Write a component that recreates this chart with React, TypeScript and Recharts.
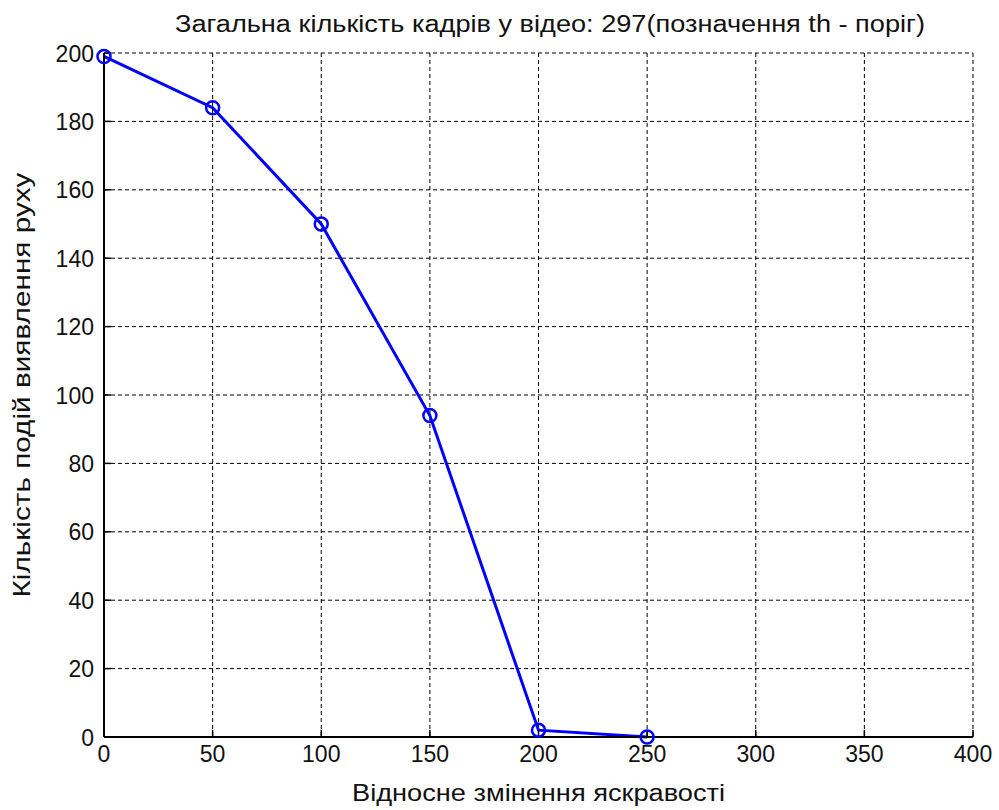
import React from "react";
import {
  CartesianGrid,
  Label,
  Line,
  LineChart,
  XAxis,
  YAxis,
} from "recharts";

// brightness threshold vs detected motion events
const thresholds = [0, 50, 100, 150, 200, 250];
const events = [199, 184, 150, 94, 2, 0];

const xTicks = [0, 50, 100, 150, 200, 250, 300, 350, 400];
const yTicks = [0, 20, 40, 60, 80, 100, 120, 140, 160, 180, 200];

const TITLE = "Загальна кількість кадрів у відео: 297(позначення th - поріг)";
const X_LABEL = "Відносне змінення яскравості";
const Y_LABEL = "Кількість подій виявлення руху";

const FONT = "'Liberation Sans', Arial, sans-serif";
const BLUE = "#0000ff";
const INK = "#111";

const data = thresholds.map((t, i) => ({ th: t, n: events[i] }));

function XTick(props: any) {
  const { x, y, payload } = props;
  const s = String(payload.value);
  return (
    <text
      x={x}
      y={y}
      dy="0.72em"
      textAnchor="middle"
      fontFamily={FONT}
      fontSize={24}
      fill={INK}
      textLength={12.8 * s.length}
      lengthAdjust="spacingAndGlyphs"
    >
      {s}
    </text>
  );
}

function YTick(props: any) {
  const { x, y, payload } = props;
  const s = String(payload.value);
  return (
    <text
      x={x}
      y={y}
      dy="0.36em"
      textAnchor="end"
      fontFamily={FONT}
      fontSize={24}
      fill={INK}
      textLength={12.8 * s.length}
      lengthAdjust="spacingAndGlyphs"
    >
      {s}
    </text>
  );
}

const NoTick = () => <g />;

// x-axis caption plus the figure title above the plot box
function XCaption(p: any) {
  const vb = p.viewBox;
  return (
    <g fontFamily={FONT} fontSize={23} fill={INK}>
      <text
        x={vb.x + vb.width / 2}
        y={801}
        textAnchor="middle"
        textLength={373}
        lengthAdjust="spacingAndGlyphs"
      >
        {X_LABEL}
      </text>
      <text
        x={550}
        y={32}
        textAnchor="middle"
        textLength={750}
        lengthAdjust="spacingAndGlyphs"
      >
        {TITLE}
      </text>
    </g>
  );
}

function YCaption(p: any) {
  const vb = p.viewBox;
  const cy = vb.y + vb.height / 2 - 10;
  return (
    <text
      x={30}
      y={cy}
      transform={`rotate(-90 30 ${cy})`}
      textAnchor="middle"
      fontFamily={FONT}
      fontSize={23}
      fill={INK}
      textLength={425}
      lengthAdjust="spacingAndGlyphs"
    >
      {Y_LABEL}
    </text>
  );
}

export default function App() {
  return (
    <div style={{ position: "absolute", left: 0, top: 0, background: "#fff" }}>
      <LineChart
        width={999}
        height={810}
        data={data}
        margin={{ top: 53, right: 26, bottom: 43, left: 44 }}
      >
        <CartesianGrid
          stroke="#000"
          strokeDasharray="4 3"
          strokeWidth={1}
          horizontalValues={yTicks}
          verticalValues={xTicks}
        />
        <XAxis
          dataKey="th"
          type="number"
          domain={[0, 400]}
          ticks={xTicks}
          height={30}
          tick={XTick}
          tickSize={-7}
          tickMargin={15}
          tickLine={{ stroke: "#000", strokeWidth: 1.5 }}
          axisLine={{ stroke: "#000", strokeWidth: 2 }}
          interval={0}
        >
          <Label content={XCaption} />
        </XAxis>
        <XAxis
          xAxisId="top"
          orientation="top"
          dataKey="th"
          type="number"
          domain={[0, 400]}
          ticks={xTicks}
          height={0}
          tick={NoTick}
          tickSize={-7}
          tickLine={{ stroke: "#000", strokeWidth: 1.5 }}
          axisLine={{ stroke: "#000", strokeWidth: 2 }}
          interval={0}
        />
        <YAxis
          type="number"
          domain={[0, 200]}
          ticks={yTicks}
          width={60}
          tick={YTick}
          tickSize={-7}
          tickMargin={17}
          tickLine={{ stroke: "#000", strokeWidth: 1.5 }}
          axisLine={{ stroke: "#000", strokeWidth: 2 }}
          interval={0}
        >
          <Label content={YCaption} />
        </YAxis>
        <YAxis
          yAxisId="right"
          orientation="right"
          type="number"
          domain={[0, 200]}
          ticks={yTicks}
          width={0}
          tick={NoTick}
          tickSize={-7}
          tickLine={{ stroke: "#000", strokeWidth: 1.5 }}
          axisLine={{ stroke: "#000", strokeWidth: 2 }}
          interval={0}
        />
        <Line
          dataKey="n"
          type="linear"
          stroke={BLUE}
          strokeWidth={3}
          dot={{ r: 6.5, stroke: BLUE, strokeWidth: 2.5, fill: "none" }}
          activeDot={false}
          isAnimationActive={false}
        />
      </LineChart>
    </div>
  );
}
